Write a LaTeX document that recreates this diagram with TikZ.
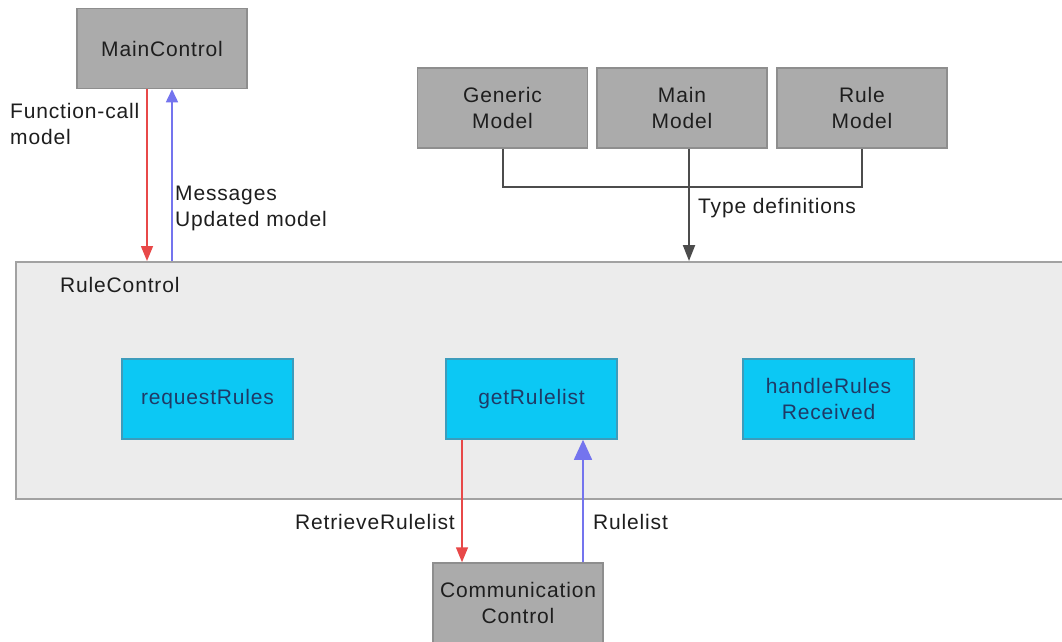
\documentclass[tikz,border=0pt]{standalone}
\usepackage{fontspec}
\setmainfont{Liberation Sans}[LetterSpace=4]
\usetikzlibrary{arrows.meta}
\definecolor{modgray}{HTML}{ABABAB}
\definecolor{modedge}{HTML}{8E8E8E}
\definecolor{funcfill}{HTML}{0CC8F4}
\definecolor{funcedge}{HTML}{3C9CBC}
\definecolor{funcfont}{HTML}{1F3A66}
\definecolor{panelfill}{HTML}{ECECEC}
\definecolor{paneledge}{HTML}{A2A2A2}
\definecolor{callred}{HTML}{E84848}
\definecolor{replyblue}{HTML}{7474EE}
\definecolor{inktext}{HTML}{1E1E1E}
\tikzset{
  module/.style={draw=modedge, line width=1.5pt, fill=modgray, minimum width=170pt,
    minimum height=80pt, inner sep=0pt, align=center, text=inktext},
  func/.style={draw=funcedge, line width=1.5pt, fill=funcfill, minimum width=171pt,
    minimum height=80pt, inner sep=0pt, align=center, text=funcfont},
  panel/.style={draw=paneledge, line width=2pt, fill=panelfill, inner sep=0pt},
  lbl/.style={inner sep=0pt, align=left, text=inktext, anchor=west},
  callarrow/.style={draw=callred, line width=1.5pt, -{Triangle[width=12pt,length=15pt]}},
  replyarrow/.style={draw=replyblue, line width=1.5pt, -{Triangle[width=12pt,length=13pt]}},
  typeline/.style={draw=black!70, line width=2pt},
}
\begin{document}
\begin{tikzpicture}[x=1pt, y=-1pt, font=\fontsize{21}{26}\selectfont]
\useasboundingbox (0,0) rectangle (1062,642);
\fill[white] (0,0) rectangle (1062,642);
\begin{scope}
\clip (0,0) rectangle (1062,642);

% the RuleControl panel runs off the right edge
\node[panel, minimum width=1070pt, minimum height=237pt, anchor=north west] (rc) at (15,261) {};
\node[lbl] (rclabel) at (60,285) {RuleControl};

% modules
\node[module] (mc) at (162,48.5) {MainControl};
\node[module] (gm) at (502.5,108) {Generic\\Model};
\node[module] (mm) at (682,108) {Main\\Model};
\node[module] (rm) at (862,108) {Rule\\Model};
\node[module] (cc) at (518,603) {Communication\\Control};

% functions inside RuleControl
\node[func] (rr) at (207.5,399) {requestRules};
\node[func] (gr) at (531.5,399) {getRulelist};
\node[func] (hr) at (828.5,399) {handleRules\\Received};

% MainControl <-> RuleControl
\coordinate (mcA) at ([xshift=-15pt]mc.south);
\coordinate (mcB) at ([xshift=10pt]mc.south);
\draw[callarrow] (mcA) -- (mcA |- rc.north);
\draw[replyarrow] (mcB |- rc.north) -- (mcB);
\node[lbl] (fcl) at (10,123.5) {Function-call\\model};
\node[lbl] (mul) at (175,208.5) {Messages\\Updated model};

% type definitions from the models
\coordinate (mmA) at ([xshift=7pt]mm.south);
\coordinate (tbar) at (0,187);
\draw[typeline] (gm.south) -- (gm.south |- tbar) -- (rm.south |- tbar) -- (rm.south);
\draw[typeline, -{Triangle[width=12pt,length=16pt]}] (mmA) -- (mmA |- rc.north);
\node[lbl] (tdl) at (698,208) {Type definitions};

% getRulelist <-> CommunicationControl
\coordinate (grA) at ([xshift=-69.5pt]gr.south);
\coordinate (grB) at ([xshift=51.5pt]gr.south);
\draw[callarrow] (grA) -- (grA |- cc.north);
\draw[replyarrow, -{Triangle[width=18pt,length=20pt]}] (grB |- cc.north) -- (grB);
\node[lbl, anchor=east] (rrl) at (455,522) {RetrieveRulelist};
\node[lbl] (rl) at (593,522) {Rulelist};
\end{scope}
\end{tikzpicture}
\end{document}
